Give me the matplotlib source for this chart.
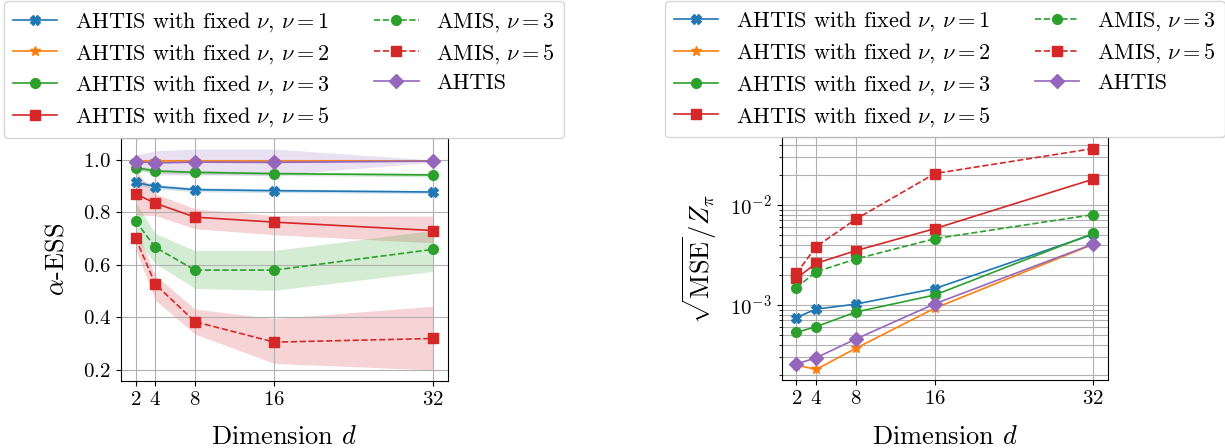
import numpy as np
import matplotlib
matplotlib.use("Agg")
from matplotlib import pyplot as plt

plt.rcParams['font.family'] = 'serif'
plt.rcParams['font.serif'] = ['cmr10']
plt.rcParams['mathtext.fontset'] = 'cm'
plt.rcParams['axes.formatter.use_mathtext'] = True
plt.rcParams['axes.unicode_minus'] = False

dims = [2, 4, 8, 16, 32]

labels = [r'AHTIS with fixed $\nu$, $\nu=1$',
          r'AHTIS with fixed $\nu$, $\nu=2$',
          r'AHTIS with fixed $\nu$, $\nu=3$',
          r'AHTIS with fixed $\nu$, $\nu=5$',
          r'AMIS, $\nu=3$',
          r'AMIS, $\nu=5$',
          r'AHTIS']
colors = ['C0', 'C1', 'C2', 'C3', 'C2', 'C3', 'C4']
markers = ['X', '*', 'o', 's', 'o', 's', 'D']
styles = ['-', '-', '-', '-', '--', '--', '-']

# alpha-ESS (mean, lower band, upper band)
ess_fix1 = [0.915, 0.899, 0.887, 0.883, 0.878]
ess_fix1_lo = [0.905, 0.890, 0.879, 0.876, 0.872]
ess_fix1_hi = [0.925, 0.908, 0.895, 0.890, 0.884]
ess_fix2 = [0.998, 0.998, 0.998, 0.998, 0.998]
ess_fix2_lo = [0.996, 0.996, 0.996, 0.996, 0.996]
ess_fix2_hi = [1.0, 1.0, 1.0, 1.0, 1.0]
ess_fix3 = [0.971, 0.958, 0.953, 0.948, 0.943]
ess_fix3_lo = [0.963, 0.950, 0.946, 0.941, 0.936]
ess_fix3_hi = [0.979, 0.966, 0.960, 0.955, 0.950]
ess_fix5 = [0.871, 0.835, 0.782, 0.763, 0.731]
ess_fix5_lo = [0.79, 0.788, 0.738, 0.715, 0.684]
ess_fix5_hi = [0.96, 0.871, 0.814, 0.788, 0.786]
ess_amis3 = [0.767, 0.667, 0.580, 0.580, 0.659]
ess_amis3_lo = [0.70, 0.605, 0.510, 0.503, 0.575]
ess_amis3_hi = [0.84, 0.719, 0.655, 0.655, 0.731]
ess_amis5 = [0.702, 0.526, 0.383, 0.305, 0.319]
ess_amis5_lo = [0.66, 0.465, 0.336, 0.224, 0.199]
ess_amis5_hi = [0.74, 0.560, 0.431, 0.395, 0.442]
ess_ahtis = [0.994, 0.989, 0.992, 0.991, 0.996]
ess_ahtis_lo = [0.966, 0.943, 0.943, 0.943, 0.991]
ess_ahtis_hi = [1.019, 1.035, 1.042, 1.042, 1.0]

# sqrt(MSE)/Z_pi
mse_fix1 = [7.5e-4, 9.1e-4, 1.02e-3, 1.46e-3, 5.1e-3]
mse_fix2 = [2.51e-4, 2.27e-4, 3.69e-4, 9.3e-4, 4.05e-3]
mse_fix3 = [5.33e-4, 6.07e-4, 8.5e-4, 1.26e-3, 5.2e-3]
mse_fix5 = [1.85e-3, 2.61e-3, 3.49e-3, 5.8e-3, 1.81e-2]
mse_amis3 = [1.49e-3, 2.15e-3, 2.88e-3, 4.6e-3, 8.0e-3]
mse_amis5 = [2.07e-3, 3.83e-3, 7.2e-3, 2.06e-2, 3.66e-2]
mse_ahtis = [2.57e-4, 2.97e-4, 4.57e-4, 1.03e-3, 4.07e-3]

ess = [ess_fix1, ess_fix2, ess_fix3, ess_fix5, ess_amis3, ess_amis5, ess_ahtis]
ess_lo = [ess_fix1_lo, ess_fix2_lo, ess_fix3_lo, ess_fix5_lo, ess_amis3_lo, ess_amis5_lo, ess_ahtis_lo]
ess_hi = [ess_fix1_hi, ess_fix2_hi, ess_fix3_hi, ess_fix5_hi, ess_amis3_hi, ess_amis5_hi, ess_ahtis_hi]
mse = [mse_fix1, mse_fix2, mse_fix3, mse_fix5, mse_amis3, mse_amis5, mse_ahtis]

fig = plt.figure(figsize=(12.25, 4.48), dpi=100)
ax1 = fig.add_axes([0.0985, 0.1496, 0.267, 0.5424])
ax2 = fig.add_axes([0.638, 0.1507, 0.2666, 0.5424])

for i in range(len(labels)):
    ax1.plot(dims, ess[i], color=colors[i], marker=markers[i], ls=styles[i],
             lw=1.2, ms=7, label=labels[i])
    ax1.fill_between(dims, ess_lo[i], ess_hi[i], color=colors[i], alpha=0.2, lw=0)
    ax2.plot(dims, mse[i], color=colors[i], marker=markers[i], ls=styles[i],
             lw=1.2, ms=7, label=labels[i])

ax1.set_ylabel(r'$\alpha$-ESS', fontsize=19, labelpad=10)
ax2.set_ylabel(r'$\sqrt{\mathrm{MSE}}/Z_\pi$', fontsize=19, labelpad=8)
ax2.set_yscale('log')

for ax in [ax1, ax2]:
    ax.set_xticks(dims)
    ax.set_xlabel(r'Dimension $d$', fontsize=19, labelpad=12)
    ax.tick_params(labelsize=15)
    ax.legend(loc='lower center', bbox_to_anchor=(0.5, 1.0), ncol=2,
              fontsize=16, labelspacing=0.36, borderaxespad=0.0)
ax1.set_yticks([0.2, 0.4, 0.6, 0.8, 1.0])
ax1.grid(True)
ax2.grid(True, which='both')

fig.savefig('out.png', dpi=100)
